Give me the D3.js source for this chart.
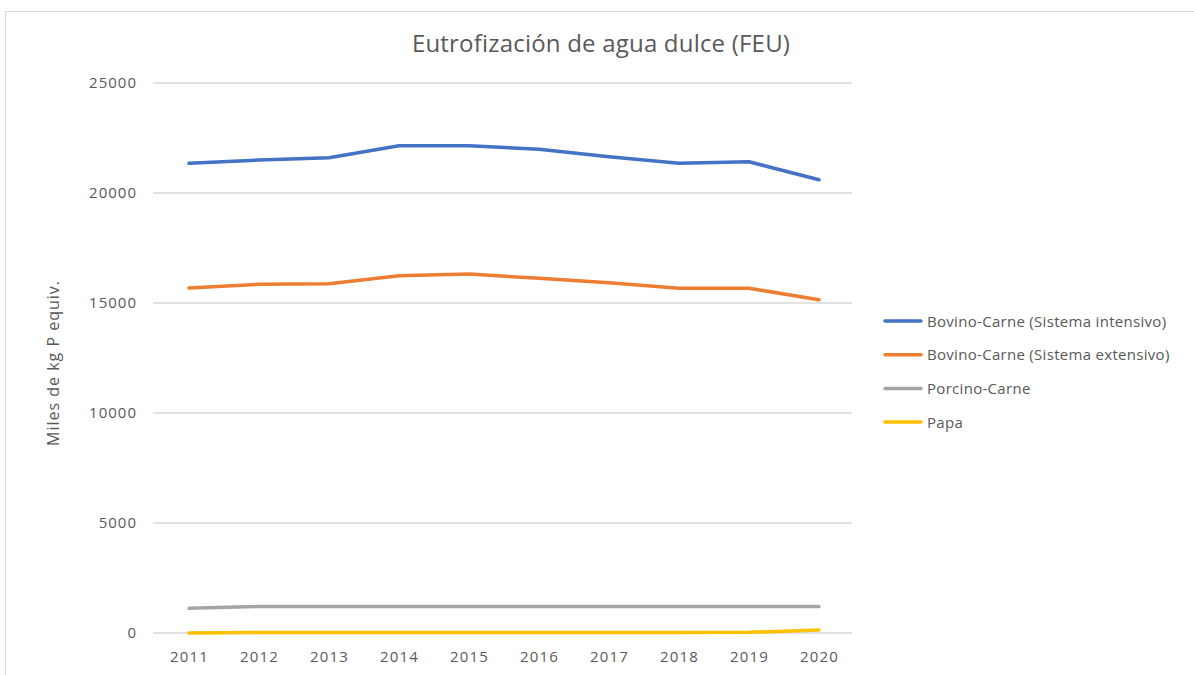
<!DOCTYPE html>
<html><head><meta charset="utf-8">
<script src="https://cdn.jsdelivr.net/npm/d3@7/dist/d3.min.js"></script>
<style>body{margin:0;background:#fff;}svg{display:block;}text{font-family:"Open Sans","Noto Sans",sans-serif;fill:#595959;}</style>
</head><body>
<script>
const years = ["2011","2012","2013","2014","2015","2016","2017","2018","2019","2020"];
const seriesNames = ["Bovino-Carne (Sistema intensivo)","Bovino-Carne (Sistema extensivo)","Porcino-Carne","Papa"];
const intensivo = [21350,21500,21600,22150,22150,21990,21650,21350,21420,20600];
const extensivo = [15680,15850,15880,16240,16320,16120,15920,15670,15670,15150];
const porcino = [1120,1210,1210,1210,1210,1210,1210,1210,1210,1210];
const papa = [0,20,20,20,20,20,20,20,30,140];
const yTicks = [0,5000,10000,15000,20000,25000];
const colors = ["#4472C4","#ED7D31","#A5A5A5","#FFC000"];
const allSeries = [intensivo, extensivo, porcino, papa];

const W=1194,H=675;
const svg=d3.select("body").append("svg").attr("width",W).attr("height",H);
svg.append("rect").attr("x",5.5).attr("y",11.5).attr("width",W+10).attr("height",H+10).attr("fill","#fff").attr("stroke","#d9d9d9");

const x=d3.scalePoint().domain(years).range([154,854]).padding(0.5);
const y=d3.scaleLinear().domain([0,25000]).range([633,83]);

// gridlines
svg.append("g").selectAll("line").data(yTicks).join("line")
  .attr("x1",153).attr("x2",852).attr("y1",d=>y(d)).attr("y2",d=>y(d))
  .attr("stroke","#d9d9d9").attr("stroke-width",1.5);

// y axis labels
const ya=svg.append("g").attr("transform","translate(153,0)")
  .call(d3.axisLeft(y).tickValues(yTicks).tickSize(0).tickPadding(16).tickFormat(d3.format("d")));
ya.select(".domain").remove();
ya.selectAll("text").style("font-size","15px").style("letter-spacing","1px").attr("fill","#595959").style("font-family","'Open Sans','Noto Sans',sans-serif");

// x axis labels
const xa=svg.append("g").attr("transform","translate(0,633)")
  .call(d3.axisBottom(x).tickSize(0).tickPadding(18));
xa.select(".domain").remove();
xa.selectAll("text").style("font-size","15px").style("letter-spacing","1.2px").attr("fill","#595959").style("font-family","'Open Sans','Noto Sans',sans-serif");

// lines
const line=d3.line().x((d,i)=>x(years[i])).y(d=>y(d));
allSeries.forEach((s,k)=>{
  svg.append("path").datum(s).attr("d",line).attr("fill","none")
    .attr("stroke",colors[k]).attr("stroke-width",3.5).attr("stroke-linecap","round").attr("stroke-linejoin","round");
});

// title
svg.append("text").attr("x",601).attr("y",52).attr("text-anchor","middle")
  .style("font-size","24px").style("letter-spacing","0.2px").text("Eutrofización de agua dulce (FEU)");

// y axis title
svg.append("text").attr("transform","translate(59,363) rotate(-90)").attr("text-anchor","middle")
  .style("font-size","16px").style("letter-spacing","1px").text("Miles de kg P equiv.");

// legend
const lg=svg.append("g");
seriesNames.forEach((n,k)=>{
  const yy=321+k*33.7;
  lg.append("line").attr("x1",885).attr("x2",921).attr("y1",yy).attr("y2",yy)
    .attr("stroke",colors[k]).attr("stroke-width",3.5).attr("stroke-linecap","round");
  lg.append("text").attr("x",927).attr("y",yy+5.5).style("font-size","15px").style("letter-spacing","0.3px").text(n);
});
</script>
</body></html>
